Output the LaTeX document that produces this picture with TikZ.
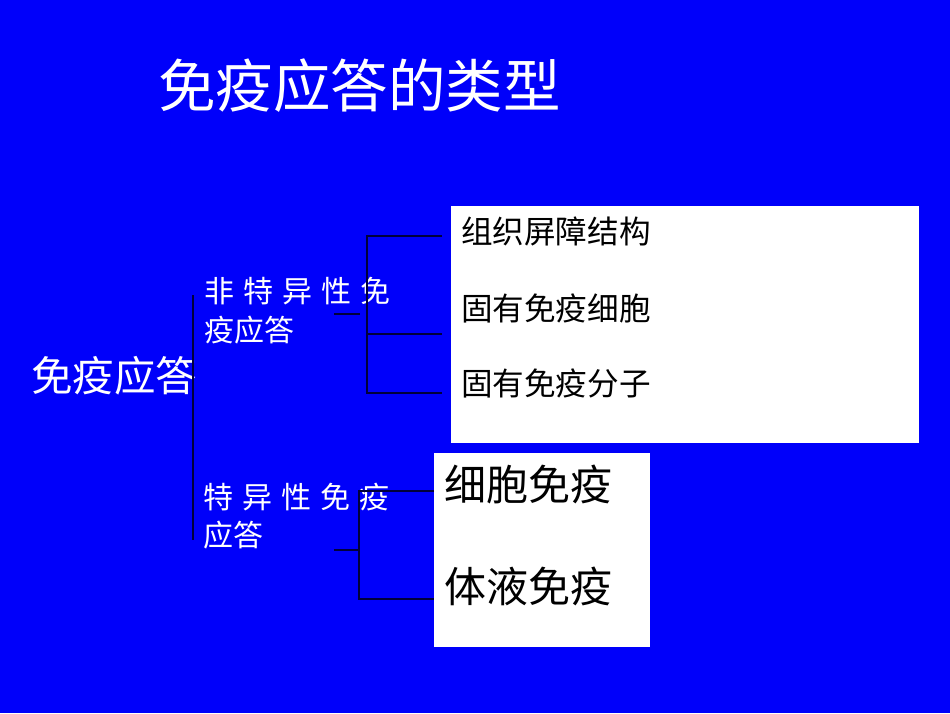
\documentclass[tikz,border=0pt]{standalone}
\usepackage{fontspec}
\setmainfont{Noto Sans CJK SC}
\definecolor{bgblue}{RGB}{0,0,250}
\definecolor{linenavy}{RGB}{0,0,60}
\begin{document}
\begin{tikzpicture}[x=1pt,y=-1pt,
  txt/.style={anchor=base west,inner sep=0pt,outer sep=0pt},
  wtxt/.style={txt,text=white},
  btxt/.style={txt,text=black},
  whitebox/.style={fill=white,draw=none},
  conn/.style={draw=linenavy,line width=1.4pt}]
\fill[bgblue] (0,0) rectangle (950,713);
\useasboundingbox (0,0) rectangle (950,713);
% boxes
\node[whitebox,anchor=north west,minimum width=468pt,minimum height=237pt,inner sep=0pt] (box1) at (451,206) {};
\node[whitebox,anchor=north west,minimum width=216pt,minimum height=194pt,inner sep=0pt] (box2) at (434,453) {};
% title
\node[wtxt,font=\fontsize{57.5}{62}\selectfont] (title) at (158,107) {免疫应答的类型};
% main label
\node[wtxt,font=\fontsize{41.5}{46}\selectfont] (main) at (31,391) {免疫应答};
% sub labels
\node[wtxt,font=\fontsize{30}{34}\selectfont] (ns1) at (204,302) {非\hspace{9.2pt}特\hspace{9.2pt}异\hspace{9.2pt}性\hspace{9.2pt}免};
\node[wtxt,font=\fontsize{30}{34}\selectfont] (ns2) at (204,341) {疫应答};
\node[wtxt,font=\fontsize{30}{34}\selectfont] (sp1) at (203,508) {特\hspace{9.2pt}异\hspace{9.2pt}性\hspace{9.2pt}免\hspace{9.2pt}疫};
\node[wtxt,font=\fontsize{30}{34}\selectfont] (sp2) at (203,546) {应答};
% box 1 texts
\node[btxt,font=\fontsize{31.6}{35}\selectfont] (b1a) at (461,243) {组织屏障结构};
\node[btxt,font=\fontsize{31.6}{35}\selectfont] (b1b) at (461,320) {固有免疫细胞};
\node[btxt,font=\fontsize{31.6}{35}\selectfont] (b1c) at (461,395) {固有免疫分子};
% box 2 texts
\node[btxt,font=\fontsize{42}{46}\selectfont] (b2a) at (444,500) {细胞免疫};
\node[btxt,font=\fontsize{42}{46}\selectfont] (b2b) at (444,602) {体液免疫};
% connector coordinates
\coordinate (mT) at (193,295);
\coordinate (mB) at (193,540);
\coordinate (s1a) at (334,314);
\coordinate (s1b) at (360,314);
\coordinate (v1T) at (367,236);
\coordinate (v1M) at (367,334);
\coordinate (v1B) at (367,393);
\coordinate (e1T) at (442,236);
\coordinate (e1M) at (442,334);
\coordinate (e1B) at (442,393);
\coordinate (s2a) at (334,550);
\coordinate (s2b) at (359,550);
\coordinate (v2T) at (359,491);
\coordinate (v2B) at (359,599);
\coordinate (e2T) at (434,491);
\coordinate (e2B) at (434,599);
% connectors
\draw[conn] (mT) -- (mB);
\draw[conn] (s1a) -- (s1b);
\draw[conn] (e1T) -- (v1T) -- (v1B) -- (e1B);
\draw[conn] (v1M) -- (e1M);
\draw[conn] (s2a) -- (s2b);
\draw[conn] (e2T) -- (v2T) -- (v2B) -- (e2B);
\end{tikzpicture}
\end{document}
